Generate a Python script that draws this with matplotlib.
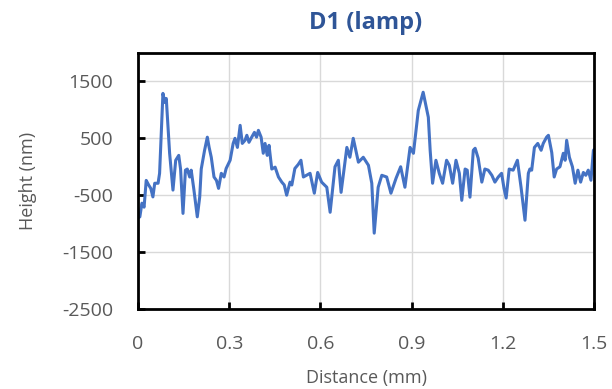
"""Surface height profile D1 (lamp): height vs distance."""

import matplotlib
matplotlib.use("Agg")
import matplotlib.pyplot as plt  # noqa: E402

# values
distance_mm = [
    0.000, 0.006, 0.013, 0.020, 0.027, 0.035, 0.042, 0.049, 0.055, 0.066,
    0.071, 0.082, 0.088, 0.093, 0.101, 0.104, 0.115, 0.124, 0.134, 0.140,
    0.148, 0.156, 0.162, 0.170, 0.175, 0.184, 0.195, 0.203, 0.208, 0.219,
    0.228, 0.234, 0.241, 0.250, 0.258, 0.265, 0.274, 0.283, 0.290,
    0.303, 0.313, 0.319, 0.327, 0.336, 0.343, 0.352, 0.358, 0.365, 0.374,
    0.383, 0.390, 0.396, 0.405, 0.412, 0.418, 0.425, 0.431, 0.440, 0.451,
    0.462, 0.473, 0.481, 0.489, 0.500, 0.506, 0.516, 0.527, 0.536, 0.544,
    0.566, 0.580, 0.591, 0.604, 0.621, 0.632, 0.648, 0.659, 0.668, 0.687,
    0.697, 0.708, 0.725, 0.741, 0.758, 0.769, 0.777, 0.790, 0.802, 0.818,
    0.832, 0.849, 0.864, 0.878, 0.895, 0.906, 0.922, 0.938, 0.955, 0.961,
    0.969, 0.980, 0.991, 1.002, 1.015, 1.024, 1.035, 1.046, 1.057, 1.065,
    1.076, 1.083, 1.092, 1.103, 1.109, 1.119, 1.131, 1.141, 1.152, 1.164,
    1.174, 1.185, 1.196, 1.204, 1.211, 1.221, 1.234, 1.248,
    1.260, 1.273, 1.284, 1.289, 1.295, 1.304, 1.315, 1.326, 1.333, 1.344,
    1.350, 1.361, 1.369, 1.377, 1.388, 1.399, 1.405, 1.410, 1.419, 1.429,
    1.438, 1.447, 1.456, 1.465, 1.473, 1.481, 1.490, 1.498, 1.500,
]
height_nm = [
    -900, -880, -640, -710, -240, -320, -380, -530, -290, -290,
    -115, 1290, 1130, 1200, 520, 237, -410, 114, 200, -40,
    -820, -60, -40, -180, -60, -410, -880, -530, -40, 290,
    520, 340, 167, -180, -240, -380, -115, -180, -30,
    114, 410, 500, 340, 728, 410, 465, 553, 430, 520,
    605, 520, 640, 520, 237, 410, 200, 377, -40, -7,
    -180, -270, -320, -500, -270, -320, -30, 40, 114, -180,
    -115, -465, -100, -270, -360, -800, 0, 114, -450, 340,
    167, 500, 80, 167, 26, -290, -1167, -360, -150, -180,
    -465, -200, 0, -360, 340, 237, 990, 1310, 870, 290,
    -290, 114, -115, -290, 114, 26, -290, 114, -115, -590,
    -40, -60, -535, 290, 325, 150, -270, -40, -60, -150,
    -270, -180, -115, -380, -550, -40, -60, 114,
    -360, -940, -115, -40, -60, 340, 410, 290, 410, 520,
    553, 250, -180, -40, 0, 237, 114, 465, 167, 0,
    -290, -60, -270, -100, -150, -60, -237, 290, 300,
]
x_ticks = [0, 0.3, 0.6, 0.9, 1.2, 1.5]
y_ticks = [1500, 500, -500, -1500, -2500]

plt.rcParams["font.family"] = ["Open Sans", "DejaVu Sans"]
label_gray = "#595959"

fig = plt.figure(figsize=(6.12, 3.89), dpi=100)
ax = fig.add_axes([0.2255, 0.2057, 0.7451, 0.6581])
ax.plot(distance_mm, height_nm, color="#4472C4", linewidth=2.2)

ax.set_xlim(0, 1.5)
ax.set_ylim(-2500, 2000)
ax.set_xticks(x_ticks, [f"{t:g}" for t in x_ticks])
ax.set_yticks(y_ticks, [str(t) for t in y_ticks])
ax.grid(True, color="#d9d9d9", linewidth=1.0)
ax.set_axisbelow(True)
ax.tick_params(direction="in", length=5, width=2, colors="black",
               labelcolor=label_gray, labelsize=14)
ax.tick_params(axis="y", pad=18)
ax.tick_params(axis="x", pad=19)
for s in ax.spines.values():
    s.set_linewidth(2)
    s.set_color("black")

ax.set_xlabel("Distance (mm)", color=label_gray, fontsize=13, labelpad=11)
ax.set_ylabel("Height (nm)", color=label_gray, fontsize=13, labelpad=18)
ax.set_title("D1 (lamp)", color="#2F5597", fontsize=17, fontweight="bold", pad=17)

fig.savefig("out.png", dpi=100)
